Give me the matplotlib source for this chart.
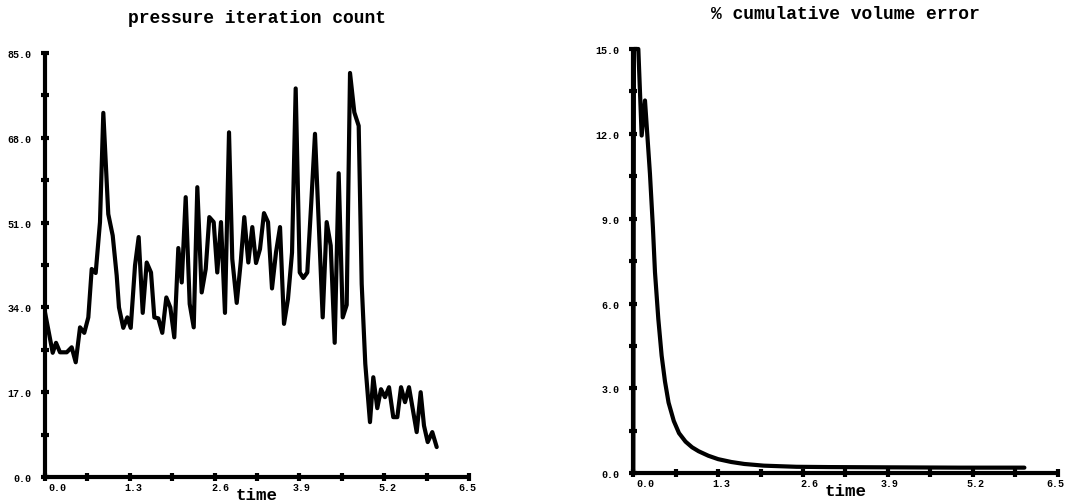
import matplotlib
matplotlib.use("Agg")
import matplotlib.pyplot as plt
from matplotlib.ticker import FixedLocator, NullFormatter

# ---------------- data ----------------
pressure_time = [0.000, 0.118, 0.169, 0.230, 0.281, 0.333, 0.409, 0.471, 0.537, 0.602,
                 0.664, 0.716, 0.777, 0.843, 0.894, 0.970, 1.038, 1.099, 1.134, 1.200,
                 1.262, 1.314, 1.380, 1.436, 1.498, 1.559, 1.625, 1.676, 1.737, 1.798,
                 1.860, 1.921, 1.982, 2.044, 2.096, 2.157, 2.218, 2.280, 2.335, 2.402,
                 2.464, 2.519, 2.586, 2.641, 2.698, 2.759, 2.821, 2.871, 2.939, 3.000,
                 3.055, 3.117, 3.178, 3.235, 3.296, 3.357, 3.419, 3.480, 3.541, 3.603,
                 3.664, 3.725, 3.787, 3.843, 3.905, 3.960, 4.021, 4.082, 4.139, 4.257,
                 4.318, 4.380, 4.441, 4.502, 4.564, 4.625, 4.676, 4.742, 4.809, 4.855,
                 4.910, 4.982, 5.033, 5.094, 5.151, 5.212, 5.274, 5.339, 5.401, 5.458,
                 5.519, 5.580, 5.646, 5.698, 5.759, 5.810, 5.867, 5.937, 6.005]
pressure_iters = [33.0, 24.9, 26.9, 25.0, 25.0, 25.0, 26.0, 23.0, 30.0, 28.9,
                  32.0, 41.7, 40.9, 51.1, 73.0, 52.7, 48.4, 40.4, 34.0, 29.9,
                  32.0, 29.9, 42.4, 48.1, 32.9, 43.0, 41.0, 32.0, 31.8, 28.9,
                  36.0, 34.0, 28.0, 45.9, 39.0, 56.1, 34.7, 30.0, 58.1, 37.0,
                  41.7, 52.1, 51.1, 41.0, 51.1, 32.9, 69.1, 43.7, 34.9, 43.0,
                  52.1, 43.0, 50.1, 42.9, 45.7, 52.9, 51.1, 37.8, 45.0, 50.1,
                  30.7, 35.7, 45.0, 77.9, 41.0, 39.9, 41.0, 55.0, 68.8, 32.0,
                  51.1, 46.4, 26.9, 60.9, 32.0, 34.5, 81.0, 73.1, 70.4, 38.7,
                  22.7, 11.0, 20.0, 13.8, 17.6, 16.0, 18.0, 12.0, 12.0, 18.0,
                  15.0, 18.0, 13.0, 9.0, 17.0, 10.3, 7.0, 9.0, 6.0]

volume_time = [0.000, 0.010, 0.077, 0.128, 0.179, 0.255, 0.300, 0.332, 0.383, 0.434,
               0.485, 0.540, 0.620, 0.700, 0.800, 0.900, 1.000, 1.150, 1.300, 1.500,
               1.700, 2.000, 2.500, 3.000, 4.000, 5.000, 5.990]
volume_error = [0.0, 15.0, 15.0, 11.94, 13.18, 10.59, 8.70, 7.11, 5.46, 4.16,
                3.25, 2.50, 1.85, 1.42, 1.12, 0.92, 0.78, 0.62, 0.50, 0.40,
                0.33, 0.27, 0.23, 0.22, 0.21, 0.20, 0.20]

x_major = [0.0, 1.3, 2.6, 3.9, 5.2, 6.5]
x_minor = [0.65, 1.95, 3.25, 4.55, 5.85]
x_labels = ["0.0", "1.3", "2.6", "3.9", "5.2", "6.5"]

p_y_major = [0.0, 17.0, 34.0, 51.0, 68.0, 85.0]
p_y_minor = [8.5, 25.5, 42.5, 59.5, 76.5]
p_y_labels = ["0.0", "17.0", "34.0", "51.0", "68.0", "85.0"]

v_y_major = [0.0, 3.0, 6.0, 9.0, 12.0, 15.0]
v_y_minor = [1.5, 4.5, 7.5, 10.5, 13.5]
v_y_labels = ["0.0", "3.0", "6.0", "9.0", "12.0", "15.0"]

titles = ["pressure iteration count", "% cumulative volume error"]
xlabel = "time"

# ---------------- figure ----------------
W, H = 1068, 502
fig = plt.figure(figsize=(W / 100, H / 100), dpi=100)
FONT = "Liberation Mono"

ax1 = fig.add_axes([45 / W, (H - 478) / H, 424 / W, 424 / H])
ax2 = fig.add_axes([633.3 / W, (H - 474.3) / H, 424.4 / W, 424.3 / H])

# horizontal nudges (pixels) of the x tick labels, as in the reference
label_nudge = [12, 3, 6, 2, 3, -2]


def style(ax, ymax, ymaj, ymin, ylabs, title):
    ax.set_xlim(0, 6.5)
    ax.set_ylim(0, ymax)
    for s in ("top", "right"):
        ax.spines[s].set_visible(False)
    for s in ("left", "bottom"):
        ax.spines[s].set_linewidth(3.0)
        ax.spines[s].set_capstyle("round")
    ax.xaxis.set_major_locator(FixedLocator(x_major))
    ax.xaxis.set_minor_locator(FixedLocator(x_minor))
    ax.xaxis.set_major_formatter(NullFormatter())
    ax.yaxis.set_major_locator(FixedLocator(ymaj))
    ax.yaxis.set_minor_locator(FixedLocator(ymin))
    ax.set_yticklabels(ylabs, fontfamily=FONT, fontweight="bold", fontsize=7.2)
    # x tick labels placed beside their ticks, nudged as in the reference
    for v, lab, dx in zip(x_major, x_labels, label_nudge):
        ax.annotate(lab, xy=(v, 0), xycoords=("data", "axes fraction"),
                    xytext=(dx, -10), textcoords="offset pixels",
                    ha="center", va="center", fontfamily=FONT,
                    fontweight="bold", fontsize=7.2, annotation_clip=False)
    ax.tick_params(which="both", direction="inout", length=5.5, width=3.0, color="black")
    ax.tick_params(axis="y", which="major", pad=7)
    ax.set_title(title, fontfamily=FONT, fontweight="bold", fontsize=13, pad=22.5)
    ax.set_xlabel(xlabel, fontfamily=FONT, fontweight="bold", fontsize=12.6)
    ax.xaxis.set_label_coords(0.5, -0.024)
    ax.xaxis.label.set_va("top")
    ax.patch.set_visible(False)


ax1.plot(pressure_time, pressure_iters, color="black", lw=3.0,
         solid_joinstyle="round", solid_capstyle="round")
style(ax1, 85, p_y_major, p_y_minor, p_y_labels, titles[0])

ax2.plot(volume_time, volume_error, color="black", lw=3.0,
         solid_joinstyle="round", solid_capstyle="round", clip_on=False)
style(ax2, 15, v_y_major, v_y_minor, v_y_labels, titles[1])

fig.savefig("out.png", dpi=100, facecolor="white")
